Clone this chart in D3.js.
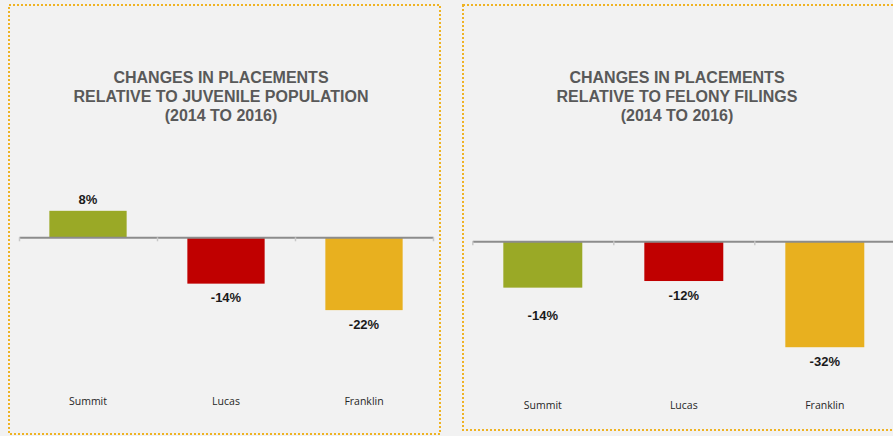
<!DOCTYPE html>
<html>
<head>
<meta charset="utf-8">
<script src="https://cdn.jsdelivr.net/npm/d3@7"></script>
<style>
  html, body { margin: 0; padding: 0; background: #f2f2f2; }
</style>
</head>
<body>
<div id="chart"></div>
<script>
// Data
const counties = ["Summit", "Lucas", "Franklin"];
const juvenileChange = [8, -14, -22];
const felonyChange = [-14, -12, -32];
const barColors = ["#9aa926", "#c00000", "#e8b01f"];
const titleJuvenile = ["CHANGES IN PLACEMENTS", "RELATIVE TO JUVENILE POPULATION", "(2014 TO 2016)"];
const titleFelony = ["CHANGES IN PLACEMENTS", "RELATIVE TO FELONY FILINGS", "(2014 TO 2016)"];

const W = 893, H = 436;
const pxPerPct = 3.31;

const svg = d3.select("#chart")
  .append("svg")
  .attr("width", W)
  .attr("height", H)
  .style("display", "block");

svg.append("rect").attr("width", W).attr("height", H).attr("fill", "#f2f2f2");

function drawPanel(opts) {
  const g = svg.append("g");

  // dotted frame
  g.append("rect")
    .attr("x", opts.frame[0])
    .attr("y", opts.frame[1])
    .attr("width", opts.frame[2])
    .attr("height", opts.frame[3])
    .attr("fill", "none")
    .attr("stroke", "#efb324")
    .attr("stroke-width", 2)
    .attr("stroke-dasharray", "2,2");

  // title
  const title = g.append("text")
    .attr("text-anchor", "middle")
    .style("font-family", "'Liberation Sans', Arial, sans-serif")
    .style("font-weight", "bold")
    .style("font-size", "16px")
    .attr("fill", "#595959");
  opts.title.forEach((t, i) => {
    title.append("tspan")
      .attr("x", opts.titleX)
      .attr("y", 82.5 + i * 19)
      .text(t);
  });

  // scales
  const x = d3.scaleBand()
    .domain(counties)
    .range(opts.xRange)
    .paddingInner(0.44)
    .paddingOuter(0.22);

  const y = d3.scaleLinear()
    .domain([-35, 10])
    .range([opts.zero + 35 * pxPerPct, opts.zero - 10 * pxPerPct]);

  // bars
  g.selectAll(".bar")
    .data(opts.values)
    .enter().append("rect")
    .attr("class", "bar")
    .attr("x", (d, i) => x(counties[i]))
    .attr("width", x.bandwidth())
    .attr("y", d => y(Math.max(0, d)))
    .attr("height", d => Math.abs(y(d) - y(0)))
    .attr("fill", (d, i) => barColors[i]);

  // axis with tick marks on the category boundaries
  const edges = d3.scaleLinear().domain([0, counties.length]).range(opts.xRange);
  const axis = g.append("g")
    .attr("transform", "translate(0," + y(0) + ")")
    .call(d3.axisBottom(edges)
      .tickValues(d3.range(counties.length + 1))
      .tickSizeInner(4)
      .tickSizeOuter(0)
      .tickFormat(""));
  axis.select(".domain").attr("stroke", "#8c8c8c").attr("stroke-width", 2);
  axis.selectAll(".tick line").attr("stroke", "#c8c8c8").attr("stroke-width", 1.5);

  // value labels
  g.selectAll(".val")
    .data(opts.values)
    .enter().append("text")
    .attr("class", "val")
    .attr("x", (d, i) => x(counties[i]) + x.bandwidth() / 2)
    .attr("y", (d, i) => d >= 0 ? y(d) - 7 : y(d) + 18.5 + (opts.nudge[i] || 0))
    .attr("text-anchor", "middle")
    .style("font-family", "'Liberation Sans', Arial, sans-serif")
    .style("font-weight", "bold")
    .style("font-size", "13px")
    .attr("fill", "#1a1a1a")
    .text(d => d + "%");

  // category labels
  g.selectAll(".cat")
    .data(counties)
    .enter().append("text")
    .attr("class", "cat")
    .attr("x", d => x(d) + x.bandwidth() / 2)
    .attr("y", opts.catY)
    .attr("text-anchor", "middle")
    .style("font-family", "'Open Sans', sans-serif")
    .style("font-size", "10.5px")
    .attr("fill", "#262626")
    .text(d => d);
}

drawPanel({
  frame: [9, 5, 431, 429],
  title: titleJuvenile,
  titleX: 221,
  xRange: [19, 433],
  zero: 237.3,
  values: juvenileChange,
  nudge: [0, 0, 0],
  catY: 405
});

drawPanel({
  frame: [463, 5, 500, 425],
  title: titleFelony,
  titleX: 677,
  xRange: [472.3, 895.3],
  zero: 241.3,
  values: felonyChange,
  nudge: [14, 0, 0],
  catY: 409
});
</script>
</body>
</html>
